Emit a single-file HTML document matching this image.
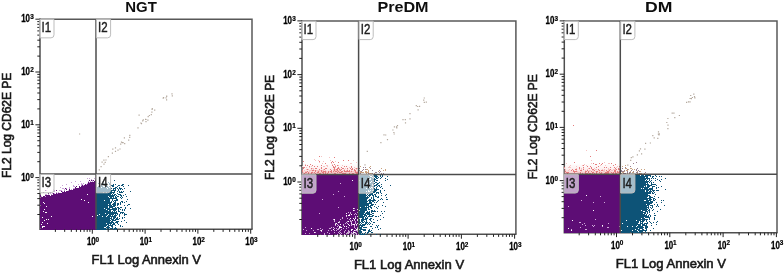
<!DOCTYPE html>
<html><head><meta charset="utf-8"><title>Flow cytometry</title>
<style>html,body{margin:0;padding:0;background:#fff}svg{display:block}</style></head>
<body>
<svg width="784" height="274" viewBox="0 0 784 274">
<defs><linearGradient id="pk" x1="0" y1="0" x2="0" y2="1"><stop offset="0" stop-color="#f0a3a3" stop-opacity="0"/><stop offset="0.55" stop-color="#f0a3a3" stop-opacity="0.18"/><stop offset="1" stop-color="#ee9a9a" stop-opacity="0.6"/></linearGradient><filter id="soft" x="0" y="0" width="784" height="274" filterUnits="userSpaceOnUse"><feGaussianBlur stdDeviation="0.45"/></filter></defs>
<rect width="784" height="274" fill="#fff"/>
<g filter="url(#soft)">
<g>
<path d="M40.0 19.15H252.0V229.3" stroke="#585858" stroke-width="1.5" fill="none"/>
<path d="M40.0 18.55V229.3H252.60" stroke="#505050" stroke-width="1.5" fill="none"/>
<path d="M89 180.5h1M91 180.5h1M93 180.5h1M95 180.5h1M94 181.5h2M88 182.5h1M90 182.5h6M88 183.5h8M85 184.5h1M87 184.5h9M82 185.5h1M84 185.5h12M76 186.5h1M79 186.5h1M81 186.5h15M75 187.5h1M79 187.5h17M65 188.5h1M75 188.5h21M66 189.5h1M69 189.5h1M73 189.5h23M45 190.5h1M56 190.5h1M69 190.5h27M61 191.5h1M64 191.5h1M66 191.5h30M43 192.5h1M50 192.5h1M62 192.5h34M48 193.5h1M53 193.5h1M56 193.5h1M58 193.5h38M53 194.5h34M88 194.5h8M40 195.5h1M45 195.5h5M51 195.5h45M40 196.5h1M43 196.5h2M46 196.5h50M41 197.5h55M40 198.5h56M40 199.5h41M82 199.5h14M40 200.5h44M85 200.5h11M40 201.5h56M40 202.5h3M44 202.5h44M89 202.5h7M40 203.5h4M45 203.5h51M40 204.5h56M41 205.5h55M40 206.5h6M47 206.5h49M40 207.5h56M40 208.5h56M40 209.5h4M45 209.5h51M40 210.5h56M40 211.5h3M44 211.5h52M40 212.5h5M47 212.5h49M40 213.5h56M40 214.5h56M40 215.5h56M40 216.5h11M52 216.5h40M93 216.5h3M40 217.5h2M43 217.5h53M40 218.5h56M40 219.5h6M47 219.5h1M49 219.5h47M40 220.5h4M45 220.5h51M40 221.5h56M40 222.5h2M43 222.5h53M40 223.5h7M48 223.5h48M40 224.5h1M42 224.5h54M40 225.5h56M40 226.5h2M45 226.5h51M40 227.5h2M43 227.5h53M41 228.5h55M40 229.5h56" stroke="#5d1174" stroke-width="1" fill="none"/>
<path d="M87 178.5h1M89 178.5h1M94 178.5h1M91 179.5h1M95 179.5h1M92 180.5h1M75 181.5h1M80 181.5h1M88 181.5h1M90 181.5h1M92 181.5h1M71 182.5h1M89 182.5h1M81 183.5h1M83 183.5h1M87 183.5h1M66 184.5h1M78 184.5h1M81 184.5h2M86 184.5h1M62 185.5h1M73 185.5h1M81 185.5h1M83 185.5h1M73 186.5h2M60 187.5h1M69 187.5h1M47 188.5h1M62 188.5h2M66 188.5h1M69 188.5h1M73 188.5h2M53 189.5h1M64 189.5h1M71 189.5h1M46 190.5h1M54 190.5h1M59 190.5h3M64 190.5h1M68 190.5h1M54 191.5h1M62 191.5h1M56 192.5h1M58 192.5h1M50 193.5h1M52 193.5h1M54 193.5h1M57 193.5h1M45 194.5h2M48 194.5h1M51 194.5h1M41 196.5h1M45 196.5h1" stroke="#c9a3d6" stroke-width="1" fill="none"/>
<path d="M114 180.5h1M103 181.5h1M96 182.5h1M108 182.5h1M110 182.5h1M98 183.5h1M102 183.5h2M106 183.5h1M109 183.5h1M101 184.5h1M103 184.5h2M109 184.5h2M113 184.5h1M115 184.5h1M122 184.5h2M101 185.5h1M104 185.5h3M111 185.5h3M118 185.5h2M121 185.5h2M128 185.5h1M98 186.5h1M101 186.5h2M106 186.5h2M109 186.5h1M112 186.5h2M117 186.5h1M123 186.5h1M96 187.5h5M102 187.5h4M107 187.5h2M110 187.5h1M115 187.5h2M119 187.5h1M97 188.5h10M108 188.5h4M113 188.5h3M117 188.5h1M119 188.5h3M124 188.5h1M96 189.5h15M113 189.5h1M115 189.5h1M118 189.5h1M120 189.5h1M122 189.5h1M96 190.5h20M118 190.5h1M96 191.5h16M114 191.5h1M117 191.5h1M119 191.5h1M121 191.5h1M123 191.5h1M130 191.5h1M96 192.5h7M104 192.5h2M107 192.5h8M119 192.5h4M96 193.5h16M113 193.5h1M117 193.5h1M96 194.5h15M112 194.5h1M114 194.5h2M118 194.5h3M125 194.5h1M96 195.5h19M116 195.5h1M120 195.5h2M123 195.5h1M96 196.5h12M109 196.5h5M115 196.5h1M117 196.5h2M121 196.5h1M126 196.5h1M96 197.5h13M110 197.5h2M113 197.5h1M115 197.5h2M120 197.5h1M122 197.5h1M96 198.5h21M121 198.5h1M96 199.5h14M112 199.5h1M116 199.5h2M127 199.5h1M96 200.5h8M105 200.5h5M112 200.5h1M114 200.5h4M96 201.5h14M111 201.5h1M113 201.5h1M115 201.5h1M121 201.5h2M126 201.5h1M96 202.5h16M114 202.5h2M120 202.5h1M122 202.5h1M124 202.5h1M96 203.5h15M113 203.5h3M117 203.5h2M120 203.5h1M96 204.5h12M109 204.5h2M112 204.5h4M117 204.5h2M120 204.5h1M128 204.5h2M96 205.5h16M113 205.5h3M117 205.5h1M124 205.5h1M127 205.5h1M96 206.5h12M109 206.5h6M96 207.5h12M109 207.5h4M115 207.5h1M117 207.5h2M120 207.5h2M125 207.5h1M96 208.5h8M105 208.5h5M112 208.5h5M118 208.5h2M125 208.5h1M130 208.5h1M96 209.5h10M107 209.5h10M118 209.5h1M120 209.5h1M122 209.5h1M124 209.5h1M96 210.5h12M109 210.5h2M113 210.5h3M118 210.5h1M122 210.5h1M124 210.5h1M96 211.5h15M112 211.5h1M114 211.5h1M116 211.5h1M118 211.5h2M96 212.5h21M120 212.5h4M96 213.5h9M106 213.5h12M120 213.5h1M122 213.5h1M124 213.5h1M96 214.5h3M100 214.5h8M109 214.5h5M115 214.5h1M117 214.5h1M119 214.5h1M124 214.5h3M96 215.5h1M98 215.5h9M108 215.5h3M112 215.5h1M114 215.5h3M119 215.5h1M124 215.5h1M96 216.5h6M103 216.5h3M107 216.5h9M119 216.5h1M96 217.5h14M111 217.5h1M113 217.5h3M117 217.5h1M122 217.5h1M124 217.5h1M96 218.5h16M113 218.5h2M116 218.5h2M119 218.5h1M122 218.5h1M96 219.5h14M111 219.5h3M115 219.5h4M96 220.5h15M112 220.5h4M124 220.5h1M96 221.5h14M111 221.5h2M116 221.5h3M121 221.5h1M96 222.5h18M115 222.5h3M126 222.5h1M96 223.5h10M107 223.5h5M113 223.5h2M117 223.5h1M96 224.5h13M110 224.5h1M112 224.5h3M118 224.5h1M96 225.5h11M108 225.5h5M115 225.5h1M120 225.5h1M96 226.5h10M107 226.5h2M111 226.5h2M120 226.5h1M122 226.5h1M96 227.5h8M106 227.5h4M112 227.5h1M115 227.5h1M96 228.5h10M107 228.5h2M110 228.5h3M114 228.5h3M96 229.5h11M108 229.5h2M113 229.5h2M116 229.5h1" stroke="#0f5377" stroke-width="1" fill="none"/>
<path d="M171.4 93.9h1.2M171.7 95.9h1.2M163.0 97.6h1.2M166.1 96.2h1.2M162.6 98.1h1.2M103.3 160.2h1.2M114.9 151.3h1.2M165.5 97.9h1.2M120.9 142.2h1.2M154.1 110.1h1.2M111.8 153.2h1.2M103.4 164.2h1.2M117.4 150.1h1.2M101.5 162.2h1.2M119.4 149.0h1.2M100.5 166.6h1.2M145.0 119.4h1.2M104.6 162.3h1.2M112.2 149.2h1.2M151.3 112.2h1.2M140.3 123.0h1.2M166.1 96.3h1.2M150.7 114.7h1.2M122.5 142.7h1.2M121.8 142.6h1.2M120.1 144.1h1.2M145.4 121.6h1.2M166.0 99.8h1.2M151.5 109.4h1.2M123.8 137.8h1.2M128.1 140.2h1.2M142.7 119.8h1.2M98.7 169.8h1.2M105.4 160.0h1.2M114.9 147.8h1.2M145.4 119.5h1.2M138.5 115.2h1.2M148.8 115.5h1.2M124.1 143.7h1.2M151.7 108.6h1.2M137.4 127.8h1.2M140.9 123.6h1.2M142.1 120.8h1.2M129.2 135.4h1.2M147.6 116.7h1.2M129.1 137.3h1.2M107.8 156.6h1.2M147.3 120.1h1.2M79.0 134.0h1.2" stroke="#b4a99e" stroke-width="1.2" fill="none"/>
<path d="M55.4 229.3v2.6M40.0 214.5h-2.7M64.7 229.3v2.6M40.0 205.2h-2.7M71.3 229.3v2.6M40.0 198.6h-2.7M76.4 229.3v2.6M40.0 193.5h-2.7M80.6 229.3v2.6M40.0 189.3h-2.7M84.1 229.3v2.6M40.0 185.8h-2.7M87.2 229.3v2.6M40.0 182.7h-2.7M89.9 229.3v2.6M40.0 180.0h-2.7M92.3 229.3v4.4M40.0 177.6h-4.6M108.2 229.3v2.6M40.0 161.7h-2.7M117.5 229.3v2.6M40.0 152.4h-2.7M124.1 229.3v2.6M40.0 145.8h-2.7M129.2 229.3v2.6M40.0 140.7h-2.7M133.4 229.3v2.6M40.0 136.5h-2.7M136.9 229.3v2.6M40.0 133.0h-2.7M140.0 229.3v2.6M40.0 129.9h-2.7M142.7 229.3v2.6M40.0 127.2h-2.7M145.1 229.3v4.4M40.0 124.8h-4.6M161.0 229.3v2.6M40.0 108.9h-2.7M170.3 229.3v2.6M40.0 99.6h-2.7M176.9 229.3v2.6M40.0 93.0h-2.7M182.0 229.3v2.6M40.0 87.9h-2.7M186.2 229.3v2.6M40.0 83.7h-2.7M189.7 229.3v2.6M40.0 80.2h-2.7M192.8 229.3v2.6M40.0 77.1h-2.7M195.5 229.3v2.6M40.0 74.4h-2.7M197.9 229.3v4.4M40.0 72.0h-4.6M213.8 229.3v2.6M40.0 56.1h-2.7M223.1 229.3v2.6M40.0 46.8h-2.7M229.7 229.3v2.6M40.0 40.2h-2.7M234.8 229.3v2.6M40.0 35.1h-2.7M239.0 229.3v2.6M40.0 30.9h-2.7M242.5 229.3v2.6M40.0 27.4h-2.7M245.6 229.3v2.6M40.0 24.3h-2.7M248.3 229.3v2.6M40.0 21.6h-2.7M250.7 229.3v4.4M40.0 19.2h-4.6" stroke="#222" stroke-width="1" fill="none"/>
<path d="M96.0 19.15V229.3M40.0 174.1H252.0" stroke="#4c4c4c" stroke-width="1.5" fill="none"/>
<path d="M39.8 19.45H54.0V34.849999999999994Q54.0 37.849999999999994 51.0 37.849999999999994H39.8Z" fill="#fff" fill-opacity="0.62" stroke="#bdbdbd" stroke-width="1"/><text x="41.5" y="32.4" font-family="'Liberation Sans', Arial, sans-serif" font-size="15" fill="#1c1c1c" stroke="#1c1c1c" stroke-width="0.45" textLength="9.6" lengthAdjust="spacingAndGlyphs">I1</text>
<path d="M96.4 19.45H110.60000000000001V34.849999999999994Q110.60000000000001 37.849999999999994 107.60000000000001 37.849999999999994H96.4Z" fill="#fff" fill-opacity="0.62" stroke="#bdbdbd" stroke-width="1"/><text x="98.1" y="32.4" font-family="'Liberation Sans', Arial, sans-serif" font-size="15" fill="#1c1c1c" stroke="#1c1c1c" stroke-width="0.45" textLength="9.6" lengthAdjust="spacingAndGlyphs">I2</text>
<path d="M39.8 174.4H54.0V189.8Q54.0 192.8 51.0 192.8H39.8Z" fill="#fff" fill-opacity="0.62" stroke="#bdbdbd" stroke-width="1"/><text x="41.5" y="187.3" font-family="'Liberation Sans', Arial, sans-serif" font-size="15" fill="#1c1c1c" stroke="#1c1c1c" stroke-width="0.45" textLength="9.6" lengthAdjust="spacingAndGlyphs">I3</text>
<path d="M96.4 174.4H110.60000000000001V189.8Q110.60000000000001 192.8 107.60000000000001 192.8H96.4Z" fill="#fff" fill-opacity="0.62" stroke="#bdbdbd" stroke-width="1"/><text x="98.1" y="187.3" font-family="'Liberation Sans', Arial, sans-serif" font-size="15" fill="#1c1c1c" stroke="#1c1c1c" stroke-width="0.45" textLength="9.6" lengthAdjust="spacingAndGlyphs">I4</text>
<text x="86.9" y="245.1" font-family="'Liberation Sans', Arial, sans-serif" font-weight="bold" font-size="10" fill="#000" stroke="#000" stroke-width="0.3" textLength="8.8" lengthAdjust="spacingAndGlyphs">10</text><text x="95.6" y="241.7" font-family="'Liberation Sans', Arial, sans-serif" font-weight="bold" font-size="6.4" fill="#000" stroke="#000" stroke-width="0.2">0</text>
<text x="21.2" y="180.6" font-family="'Liberation Sans', Arial, sans-serif" font-weight="bold" font-size="10" fill="#000" stroke="#000" stroke-width="0.3" textLength="8.8" lengthAdjust="spacingAndGlyphs">10</text><text x="30.2" y="177.7" font-family="'Liberation Sans', Arial, sans-serif" font-weight="bold" font-size="6.4" fill="#000" stroke="#000" stroke-width="0.2">0</text>
<text x="139.7" y="245.1" font-family="'Liberation Sans', Arial, sans-serif" font-weight="bold" font-size="10" fill="#000" stroke="#000" stroke-width="0.3" textLength="8.8" lengthAdjust="spacingAndGlyphs">10</text><text x="148.4" y="241.7" font-family="'Liberation Sans', Arial, sans-serif" font-weight="bold" font-size="6.4" fill="#000" stroke="#000" stroke-width="0.2">1</text>
<text x="21.2" y="127.8" font-family="'Liberation Sans', Arial, sans-serif" font-weight="bold" font-size="10" fill="#000" stroke="#000" stroke-width="0.3" textLength="8.8" lengthAdjust="spacingAndGlyphs">10</text><text x="30.2" y="124.9" font-family="'Liberation Sans', Arial, sans-serif" font-weight="bold" font-size="6.4" fill="#000" stroke="#000" stroke-width="0.2">1</text>
<text x="192.5" y="245.1" font-family="'Liberation Sans', Arial, sans-serif" font-weight="bold" font-size="10" fill="#000" stroke="#000" stroke-width="0.3" textLength="8.8" lengthAdjust="spacingAndGlyphs">10</text><text x="201.2" y="241.7" font-family="'Liberation Sans', Arial, sans-serif" font-weight="bold" font-size="6.4" fill="#000" stroke="#000" stroke-width="0.2">2</text>
<text x="21.2" y="75.0" font-family="'Liberation Sans', Arial, sans-serif" font-weight="bold" font-size="10" fill="#000" stroke="#000" stroke-width="0.3" textLength="8.8" lengthAdjust="spacingAndGlyphs">10</text><text x="30.2" y="72.1" font-family="'Liberation Sans', Arial, sans-serif" font-weight="bold" font-size="6.4" fill="#000" stroke="#000" stroke-width="0.2">2</text>
<text x="245.3" y="245.1" font-family="'Liberation Sans', Arial, sans-serif" font-weight="bold" font-size="10" fill="#000" stroke="#000" stroke-width="0.3" textLength="8.8" lengthAdjust="spacingAndGlyphs">10</text><text x="254.0" y="241.7" font-family="'Liberation Sans', Arial, sans-serif" font-weight="bold" font-size="6.4" fill="#000" stroke="#000" stroke-width="0.2">3</text>
<text x="21.2" y="22.2" font-family="'Liberation Sans', Arial, sans-serif" font-weight="bold" font-size="10" fill="#000" stroke="#000" stroke-width="0.3" textLength="8.8" lengthAdjust="spacingAndGlyphs">10</text><text x="30.2" y="19.3" font-family="'Liberation Sans', Arial, sans-serif" font-weight="bold" font-size="6.4" fill="#000" stroke="#000" stroke-width="0.2">3</text>
<text x="125.2" y="11.6" font-family="'Liberation Sans', Arial, sans-serif" font-weight="bold" font-size="15" fill="#111" textLength="31.6" lengthAdjust="spacingAndGlyphs">NGT</text>
<text x="91.6" y="264.0" font-family="'Liberation Sans', Arial, sans-serif" font-size="13" fill="#1a1a1a" stroke="#1a1a1a" stroke-width="0.6" textLength="109.4" lengthAdjust="spacingAndGlyphs">FL1 Log Annexin V</text>
<text transform="translate(11.3 178.0) rotate(-90)" font-family="'Liberation Sans', Arial, sans-serif" font-size="13" fill="#1a1a1a" stroke="#1a1a1a" stroke-width="0.6" textLength="105.3" lengthAdjust="spacingAndGlyphs">FL2 Log CD62E PE</text>
</g>
<g>
<path d="M302.0 20.9H515.9V234.3" stroke="#585858" stroke-width="1.5" fill="none"/>
<path d="M302.0 20.30V234.3H516.50" stroke="#505050" stroke-width="1.5" fill="none"/>
<rect x="302" y="163.5" width="56.6" height="11" fill="url(#pk)"/>
<path d="M302 175.5h57M302 176.5h57M302 177.5h57M302 178.5h57M302 179.5h57M302 180.5h50M353 180.5h6M302 181.5h57M302 182.5h57M302 183.5h38M341 183.5h18M302 184.5h57M302 185.5h57M302 186.5h57M302 187.5h57M302 188.5h57M302 189.5h57M302 190.5h57M302 191.5h36M339 191.5h20M302 192.5h57M302 193.5h57M302 194.5h31M334 194.5h25M302 195.5h57M302 196.5h42M345 196.5h14M302 197.5h57M302 198.5h57M302 199.5h20M323 199.5h36M302 200.5h57M302 201.5h57M302 202.5h57M302 203.5h57M302 204.5h57M302 205.5h57M302 206.5h57M302 207.5h36M339 207.5h20M302 208.5h51M355 208.5h4M302 209.5h55M358 209.5h1M302 210.5h51M355 210.5h4M302 211.5h57M302 212.5h46M349 212.5h1M351 212.5h6M358 212.5h1M302 213.5h17M320 213.5h26M347 213.5h3M351 213.5h4M356 213.5h3M302 214.5h47M350 214.5h1M352 214.5h2M355 214.5h1M357 214.5h2M302 215.5h44M347 215.5h1M350 215.5h9M302 216.5h44M347 216.5h8M356 216.5h1M302 217.5h40M343 217.5h12M356 217.5h3M302 218.5h40M343 218.5h4M348 218.5h2M351 218.5h2M354 218.5h1M356 218.5h3M302 219.5h31M335 219.5h5M341 219.5h8M350 219.5h4M355 219.5h2M358 219.5h1M302 220.5h32M335 220.5h15M351 220.5h1M353 220.5h1M355 220.5h2M358 220.5h1M302 221.5h32M335 221.5h4M340 221.5h7M349 221.5h1M352 221.5h3M356 221.5h2M302 222.5h36M340 222.5h6M347 222.5h4M352 222.5h3M356 222.5h3M302 223.5h33M337 223.5h8M346 223.5h1M348 223.5h3M352 223.5h3M356 223.5h1M358 223.5h1M302 224.5h33M336 224.5h1M338 224.5h2M341 224.5h2M344 224.5h4M349 224.5h2M355 224.5h1M357 224.5h2M302 225.5h33M336 225.5h2M339 225.5h4M344 225.5h5M350 225.5h1M352 225.5h2M355 225.5h1M357 225.5h1M302 226.5h35M338 226.5h1M341 226.5h3M345 226.5h1M347 226.5h7M355 226.5h4M302 227.5h3M306 227.5h25M332 227.5h1M334 227.5h5M342 227.5h6M349 227.5h5M355 227.5h2M358 227.5h1M302 228.5h9M312 228.5h8M321 228.5h8M331 228.5h3M335 228.5h1M337 228.5h1M340 228.5h3M344 228.5h2M347 228.5h8M356 228.5h1M358 228.5h1M302 229.5h1M304 229.5h13M319 229.5h3M323 229.5h10M334 229.5h3M339 229.5h2M342 229.5h9M353 229.5h3M302 230.5h4M307 230.5h6M314 230.5h6M322 230.5h6M329 230.5h2M332 230.5h2M335 230.5h1M337 230.5h3M341 230.5h4M346 230.5h2M349 230.5h2M352 230.5h2M358 230.5h1M302 231.5h19M322 231.5h17M340 231.5h4M345 231.5h3M350 231.5h3M354 231.5h3M302 232.5h12M316 232.5h11M328 232.5h6M335 232.5h3M339 232.5h1M341 232.5h3M345 232.5h2M350 232.5h1M352 232.5h1M356 232.5h3M302 233.5h3M306 233.5h3M310 233.5h14M325 233.5h4M330 233.5h9M340 233.5h1M342 233.5h4M349 233.5h2M354 233.5h1M357 233.5h1M302 234.5h18M321 234.5h3M325 234.5h10M336 234.5h1M338 234.5h1M341 234.5h3M345 234.5h1M347 234.5h3M355 234.5h1M357 234.5h1" stroke="#5d1174" stroke-width="1" fill="none"/>
<path d="M340 183.5h1M338 191.5h1M333 194.5h1M344 196.5h1M322 199.5h1M338 207.5h1M354 208.5h1M354 210.5h1M348 212.5h1M350 212.5h1M357 212.5h1M319 213.5h1M350 213.5h1M355 213.5h1M349 214.5h1M354 214.5h1M356 214.5h1M346 216.5h1M355 216.5h1M358 216.5h1M342 217.5h1M355 217.5h1M342 218.5h1M347 218.5h1M333 219.5h1M340 219.5h1M349 219.5h1M334 220.5h1M350 220.5h1M354 220.5h1M334 221.5h1M339 221.5h1M347 221.5h1M350 221.5h2M355 221.5h1M358 221.5h1M339 222.5h1M346 222.5h1M351 222.5h1M355 222.5h1M335 223.5h1M345 223.5h1M347 223.5h1M355 223.5h1M337 224.5h1M343 224.5h1M351 224.5h2M335 225.5h1M338 225.5h1M343 225.5h1M351 225.5h1M354 225.5h1M356 225.5h1M358 225.5h1M337 226.5h1M340 226.5h1M354 226.5h1M305 227.5h1M331 227.5h1M333 227.5h1M348 227.5h1M354 227.5h1M357 227.5h1M320 228.5h1M329 228.5h2M334 228.5h1M336 228.5h1M338 228.5h2M343 228.5h1M346 228.5h1M355 228.5h1M303 229.5h1M317 229.5h2M322 229.5h1M337 229.5h2M341 229.5h1M358 229.5h1M306 230.5h1M313 230.5h1M320 230.5h1M328 230.5h1M331 230.5h1M334 230.5h1M336 230.5h1M340 230.5h1M345 230.5h1M348 230.5h1M355 230.5h3M321 231.5h1M339 231.5h1M344 231.5h1M348 231.5h2M353 231.5h1M357 231.5h2M315 232.5h1M327 232.5h1M334 232.5h1M338 232.5h1M340 232.5h1M344 232.5h1M347 232.5h3M351 232.5h1M355 232.5h1M305 233.5h1M324 233.5h1M329 233.5h1M339 233.5h1M341 233.5h1M346 233.5h1M348 233.5h1M352 233.5h2M356 233.5h1M358 233.5h1M324 234.5h1M337 234.5h1M340 234.5h1M344 234.5h1M346 234.5h1M350 234.5h5M356 234.5h1M358 234.5h1" stroke="#cfaad9" stroke-width="1" fill="none"/>
<path d="M359 175.5h10M370 175.5h2M373 175.5h4M380 175.5h1M382 175.5h1M359 176.5h11M372 176.5h1M374 176.5h4M380 176.5h1M382 176.5h1M387 176.5h1M359 177.5h9M369 177.5h3M375 177.5h2M378 177.5h1M381 177.5h1M359 178.5h9M369 178.5h1M371 178.5h2M374 178.5h1M376 178.5h2M380 178.5h1M385 178.5h1M359 179.5h10M371 179.5h5M387 179.5h1M360 180.5h13M374 180.5h1M376 180.5h2M385 180.5h1M359 181.5h12M372 181.5h3M359 182.5h11M371 182.5h2M375 182.5h2M379 182.5h1M359 183.5h8M368 183.5h7M377 183.5h2M359 184.5h9M369 184.5h3M373 184.5h1M376 184.5h2M381 184.5h1M359 185.5h10M370 185.5h2M374 185.5h3M378 185.5h2M390 185.5h1M359 186.5h16M377 186.5h1M379 186.5h1M381 186.5h1M359 187.5h10M370 187.5h1M373 187.5h1M376 187.5h1M380 187.5h1M359 188.5h7M367 188.5h3M371 188.5h1M373 188.5h2M376 188.5h1M382 188.5h1M359 189.5h14M374 189.5h5M359 190.5h9M369 190.5h1M371 190.5h1M374 190.5h3M380 190.5h1M384 190.5h1M359 191.5h7M367 191.5h1M370 191.5h6M380 191.5h1M359 192.5h12M373 192.5h2M376 192.5h3M380 192.5h1M359 193.5h7M368 193.5h1M370 193.5h3M376 193.5h1M378 193.5h1M381 193.5h1M359 194.5h7M367 194.5h1M369 194.5h4M374 194.5h2M386 194.5h1M359 195.5h8M368 195.5h3M372 195.5h2M375 195.5h1M381 195.5h1M385 195.5h1M359 196.5h7M367 196.5h1M369 196.5h1M373 196.5h1M375 196.5h2M378 196.5h1M359 197.5h10M371 197.5h1M373 197.5h1M377 197.5h2M386 197.5h1M359 198.5h9M371 198.5h1M373 198.5h1M381 198.5h1M359 199.5h8M369 199.5h2M373 199.5h2M380 199.5h1M382 199.5h1M386 199.5h2M359 200.5h8M368 200.5h8M378 200.5h1M359 201.5h9M369 201.5h2M372 201.5h2M377 201.5h1M359 202.5h8M369 202.5h3M374 202.5h1M376 202.5h1M383 202.5h1M359 203.5h13M359 204.5h10M371 204.5h3M375 204.5h1M359 205.5h10M370 205.5h3M382 205.5h1M359 206.5h6M366 206.5h1M368 206.5h3M374 206.5h1M378 206.5h1M385 206.5h1M359 207.5h1M361 207.5h8M370 207.5h2M376 207.5h1M359 208.5h8M368 208.5h1M371 208.5h1M377 208.5h1M359 209.5h8M368 209.5h2M360 210.5h7M371 210.5h2M374 210.5h1M359 211.5h6M367 211.5h1M369 211.5h1M371 211.5h5M377 211.5h1M381 211.5h1M384 211.5h1M359 212.5h6M366 212.5h4M371 212.5h1M359 213.5h5M365 213.5h5M372 213.5h2M382 213.5h1M359 214.5h7M367 214.5h5M359 215.5h4M364 215.5h3M369 215.5h1M372 215.5h2M380 215.5h1M359 216.5h6M366 216.5h1M368 216.5h5M375 216.5h2M378 216.5h1M359 217.5h5M365 217.5h1M367 217.5h1M383 217.5h1M362 218.5h2M365 218.5h3M370 218.5h2M359 219.5h1M361 219.5h6M369 219.5h2M373 219.5h1M380 219.5h1M359 220.5h1M361 220.5h3M366 220.5h1M370 220.5h1M377 220.5h1M359 221.5h1M361 221.5h2M364 221.5h1M366 221.5h1M371 221.5h1M359 222.5h2M362 222.5h2M365 222.5h3M369 222.5h1M373 222.5h2M359 223.5h1M361 223.5h1M365 223.5h2M368 223.5h1M370 223.5h1M360 224.5h1M362 224.5h4M367 224.5h1M369 224.5h1M372 224.5h1M359 225.5h6M376 225.5h1M378 225.5h1M359 226.5h1M361 226.5h2M370 226.5h2M377 226.5h1M359 227.5h3M363 227.5h4M375 227.5h1M377 227.5h1M359 228.5h3M372 228.5h1M380 228.5h1M360 229.5h6M369 229.5h1M378 229.5h1M359 230.5h2M363 230.5h3M368 230.5h2M371 230.5h1M359 231.5h3M368 231.5h3M359 232.5h3M365 232.5h1M367 232.5h2M371 232.5h2M359 233.5h2M362 233.5h1M364 233.5h1M367 233.5h1M360 234.5h5M366 234.5h1M370 234.5h1M376 234.5h1M380 234.5h1" stroke="#0f5377" stroke-width="1" fill="none"/>
<path d="M319 156.5h1M334 157.5h1M343 160.5h1M348 160.5h1M303 161.5h1M319 161.5h1M332 161.5h1M331 162.5h1M333 162.5h1M338 162.5h1M325 163.5h1M310 164.5h1M334 164.5h1M305 165.5h1M307 165.5h1M312 165.5h1M321 165.5h1M332 165.5h1M337 165.5h1M309 166.5h1M314 166.5h1M317 166.5h1M333 166.5h1M335 166.5h1M344 166.5h1M346 166.5h1M351 166.5h1M303 167.5h2M321 167.5h1M333 167.5h2M338 167.5h1M341 167.5h1M351 167.5h1M303 168.5h1M311 168.5h1M315 168.5h2M321 168.5h1M325 168.5h2M334 168.5h1M337 168.5h2M342 168.5h2M347 168.5h1M350 168.5h1M352 168.5h1M356 168.5h1M307 169.5h1M319 169.5h1M324 169.5h1M330 169.5h1M334 169.5h1M336 169.5h2M339 169.5h1M341 169.5h1M351 169.5h2M354 169.5h1M302 170.5h1M312 170.5h2M315 170.5h1M321 170.5h1M331 170.5h1M334 170.5h1M337 170.5h1M340 170.5h1M344 170.5h1M347 170.5h1M349 170.5h1M354 170.5h2M302 171.5h1M307 171.5h1M315 171.5h1M318 171.5h1M321 171.5h1M323 171.5h3M328 171.5h1M330 171.5h2M333 171.5h1M335 171.5h2M338 171.5h1M341 171.5h2M344 171.5h6M351 171.5h1M355 171.5h1M305 172.5h2M308 172.5h1M311 172.5h2M314 172.5h1M317 172.5h2M322 172.5h2M325 172.5h1M328 172.5h1M331 172.5h1M337 172.5h1M339 172.5h3M355 172.5h4M304 173.5h1M308 173.5h1M311 173.5h1M315 173.5h1M319 173.5h2M323 173.5h1M325 173.5h1M327 173.5h1M334 173.5h2M342 173.5h4M349 173.5h1M352 173.5h2M356 173.5h3" stroke="#e57b7d" stroke-width="1" fill="none"/>
<path d="M321 156.5h1M329 157.5h1M314 159.5h1M315 160.5h1M318 160.5h1M330 160.5h1M353 160.5h1M323 161.5h1M335 161.5h1M319 162.5h1M356 162.5h1M322 163.5h1M331 163.5h1M350 163.5h2M305 164.5h1M332 164.5h1M326 165.5h2M335 165.5h1M338 165.5h1M342 165.5h1M302 166.5h1M311 166.5h1M323 166.5h2M327 166.5h1M306 167.5h1M309 167.5h1M335 167.5h1M349 167.5h1M354 167.5h1M312 168.5h2M339 168.5h1M345 168.5h1M355 168.5h1M357 168.5h1M306 169.5h1M308 169.5h1M311 169.5h1M313 169.5h1M323 169.5h1M333 169.5h1M335 169.5h1M340 169.5h1M344 169.5h1M347 169.5h1M356 169.5h1M304 170.5h1M309 170.5h3M314 170.5h1M316 170.5h5M322 170.5h2M325 170.5h1M333 170.5h1M335 170.5h2M338 170.5h2M343 170.5h1M346 170.5h1M351 170.5h1M305 171.5h2M309 171.5h1M312 171.5h1M317 171.5h1M319 171.5h1M322 171.5h1M326 171.5h1M329 171.5h1M334 171.5h1M337 171.5h1M339 171.5h1M350 171.5h1M352 171.5h3M356 171.5h3M303 172.5h1M309 172.5h1M313 172.5h1M316 172.5h1M320 172.5h2M324 172.5h1M326 172.5h2M330 172.5h1M332 172.5h4M338 172.5h1M342 172.5h2M345 172.5h2M349 172.5h3M354 172.5h1M302 173.5h2M305 173.5h1M307 173.5h1M310 173.5h1M314 173.5h1M317 173.5h1M321 173.5h2M324 173.5h1M326 173.5h1M328 173.5h1M330 173.5h1M332 173.5h2M336 173.5h2M339 173.5h3M346 173.5h1M350 173.5h2M354 173.5h2" stroke="#f6c4c4" stroke-width="1" fill="none"/>
<path d="M360 166.5h1M370 166.5h1M369 167.5h1M381 168.5h1M366 169.5h2M385 169.5h1M359 170.5h1M368 170.5h1M383 170.5h1M385 170.5h1M360 171.5h1M365 171.5h2M368 171.5h1M378 171.5h1M360 172.5h4M365 172.5h4M366 173.5h1M369 173.5h3M374 173.5h1" stroke="#c9a27f" stroke-width="1" fill="none"/>
<path d="M363 167.5h1M365 167.5h1M359 168.5h1M370 168.5h1M363 169.5h1M365 169.5h1M362 170.5h1M372 170.5h1M379 170.5h1M361 171.5h1M380 171.5h1M375 172.5h2M379 172.5h1M360 173.5h1M368 173.5h1M372 173.5h1M381 173.5h1M383 173.5h1" stroke="#9a7f8f" stroke-width="1" fill="none"/>
<path d="M423.7 98.0h1.2M364.4 164.8h1.2M404.9 122.8h1.2M380.3 142.7h1.2M423.7 102.3h1.2M404.7 119.6h1.2M417.5 109.9h1.2M366.7 151.3h1.2M425.7 102.1h1.2M402.4 119.7h1.2M396.2 127.9h1.2M383.4 134.9h1.2M385.1 135.0h1.2M409.4 113.7h1.2M415.7 105.7h1.2M423.1 100.2h1.2M417.1 106.5h1.2M396.9 125.7h1.2M392.3 130.0h1.2M386.9 139.6h1.2M393.8 126.9h1.2M409.4 118.9h1.2M395.9 126.8h1.2M393.6 134.0h1.2M419.0 106.3h1.2M393.3 132.5h1.2" stroke="#b4a99e" stroke-width="1.2" fill="none"/>
<path d="M317.7 234.3v2.6M302.0 219.5h-2.7M327.1 234.3v2.6M302.0 210.1h-2.7M333.7 234.3v2.6M302.0 203.4h-2.7M338.9 234.3v2.6M302.0 198.2h-2.7M343.1 234.3v2.6M302.0 193.9h-2.7M346.7 234.3v2.6M302.0 190.3h-2.7M349.7 234.3v2.6M302.0 187.2h-2.7M352.5 234.3v2.6M302.0 184.5h-2.7M354.9 234.3v4.4M302.0 182.0h-4.6M370.9 234.3v2.6M302.0 165.8h-2.7M380.3 234.3v2.6M302.0 156.4h-2.7M387.0 234.3v2.6M302.0 149.7h-2.7M392.1 234.3v2.6M302.0 144.5h-2.7M396.3 234.3v2.6M302.0 140.2h-2.7M399.9 234.3v2.6M302.0 136.6h-2.7M403.0 234.3v2.6M302.0 133.5h-2.7M405.7 234.3v2.6M302.0 130.8h-2.7M408.1 234.3v4.4M302.0 128.3h-4.6M424.2 234.3v2.6M302.0 112.1h-2.7M433.6 234.3v2.6M302.0 102.7h-2.7M440.2 234.3v2.6M302.0 96.0h-2.7M445.4 234.3v2.6M302.0 90.8h-2.7M449.6 234.3v2.6M302.0 86.5h-2.7M453.2 234.3v2.6M302.0 82.9h-2.7M456.2 234.3v2.6M302.0 79.8h-2.7M459.0 234.3v2.6M302.0 77.1h-2.7M461.4 234.3v4.4M302.0 74.6h-4.6M477.4 234.3v2.6M302.0 58.4h-2.7M486.8 234.3v2.6M302.0 49.0h-2.7M493.5 234.3v2.6M302.0 42.3h-2.7M498.6 234.3v2.6M302.0 37.1h-2.7M502.8 234.3v2.6M302.0 32.8h-2.7M506.4 234.3v2.6M302.0 29.2h-2.7M509.5 234.3v2.6M302.0 26.1h-2.7M512.2 234.3v2.6M302.0 23.4h-2.7M514.6 234.3v4.4M302.0 20.9h-4.6" stroke="#222" stroke-width="1" fill="none"/>
<path d="M358.6 20.9V234.3M302.0 174.5H515.9" stroke="#4c4c4c" stroke-width="1.5" fill="none"/>
<path d="M301.8 21.2H316.0V36.599999999999994Q316.0 39.599999999999994 313.0 39.599999999999994H301.8Z" fill="#fff" fill-opacity="0.62" stroke="#bdbdbd" stroke-width="1"/><text x="303.5" y="34.1" font-family="'Liberation Sans', Arial, sans-serif" font-size="15" fill="#1c1c1c" stroke="#1c1c1c" stroke-width="0.45" textLength="9.6" lengthAdjust="spacingAndGlyphs">I1</text>
<path d="M359.0 21.2H373.2V36.599999999999994Q373.2 39.599999999999994 370.2 39.599999999999994H359.0Z" fill="#fff" fill-opacity="0.62" stroke="#bdbdbd" stroke-width="1"/><text x="360.7" y="34.1" font-family="'Liberation Sans', Arial, sans-serif" font-size="15" fill="#1c1c1c" stroke="#1c1c1c" stroke-width="0.45" textLength="9.6" lengthAdjust="spacingAndGlyphs">I2</text>
<path d="M301.8 174.8H316.0V190.20000000000002Q316.0 193.20000000000002 313.0 193.20000000000002H301.8Z" fill="#fff" fill-opacity="0.62" stroke="#bdbdbd" stroke-width="1"/><text x="303.5" y="187.7" font-family="'Liberation Sans', Arial, sans-serif" font-size="15" fill="#1c1c1c" stroke="#1c1c1c" stroke-width="0.45" textLength="9.6" lengthAdjust="spacingAndGlyphs">I3</text>
<path d="M359.0 174.8H373.2V190.20000000000002Q373.2 193.20000000000002 370.2 193.20000000000002H359.0Z" fill="#fff" fill-opacity="0.62" stroke="#bdbdbd" stroke-width="1"/><text x="360.7" y="187.7" font-family="'Liberation Sans', Arial, sans-serif" font-size="15" fill="#1c1c1c" stroke="#1c1c1c" stroke-width="0.45" textLength="9.6" lengthAdjust="spacingAndGlyphs">I4</text>
<text x="349.5" y="250.1" font-family="'Liberation Sans', Arial, sans-serif" font-weight="bold" font-size="10" fill="#000" stroke="#000" stroke-width="0.3" textLength="8.8" lengthAdjust="spacingAndGlyphs">10</text><text x="358.2" y="246.7" font-family="'Liberation Sans', Arial, sans-serif" font-weight="bold" font-size="6.4" fill="#000" stroke="#000" stroke-width="0.2">0</text>
<text x="283.2" y="185.0" font-family="'Liberation Sans', Arial, sans-serif" font-weight="bold" font-size="10" fill="#000" stroke="#000" stroke-width="0.3" textLength="8.8" lengthAdjust="spacingAndGlyphs">10</text><text x="292.2" y="182.1" font-family="'Liberation Sans', Arial, sans-serif" font-weight="bold" font-size="6.4" fill="#000" stroke="#000" stroke-width="0.2">0</text>
<text x="402.8" y="250.1" font-family="'Liberation Sans', Arial, sans-serif" font-weight="bold" font-size="10" fill="#000" stroke="#000" stroke-width="0.3" textLength="8.8" lengthAdjust="spacingAndGlyphs">10</text><text x="411.4" y="246.7" font-family="'Liberation Sans', Arial, sans-serif" font-weight="bold" font-size="6.4" fill="#000" stroke="#000" stroke-width="0.2">1</text>
<text x="283.2" y="131.3" font-family="'Liberation Sans', Arial, sans-serif" font-weight="bold" font-size="10" fill="#000" stroke="#000" stroke-width="0.3" textLength="8.8" lengthAdjust="spacingAndGlyphs">10</text><text x="292.2" y="128.4" font-family="'Liberation Sans', Arial, sans-serif" font-weight="bold" font-size="6.4" fill="#000" stroke="#000" stroke-width="0.2">1</text>
<text x="456.0" y="250.1" font-family="'Liberation Sans', Arial, sans-serif" font-weight="bold" font-size="10" fill="#000" stroke="#000" stroke-width="0.3" textLength="8.8" lengthAdjust="spacingAndGlyphs">10</text><text x="464.7" y="246.7" font-family="'Liberation Sans', Arial, sans-serif" font-weight="bold" font-size="6.4" fill="#000" stroke="#000" stroke-width="0.2">2</text>
<text x="283.2" y="77.6" font-family="'Liberation Sans', Arial, sans-serif" font-weight="bold" font-size="10" fill="#000" stroke="#000" stroke-width="0.3" textLength="8.8" lengthAdjust="spacingAndGlyphs">10</text><text x="292.2" y="74.7" font-family="'Liberation Sans', Arial, sans-serif" font-weight="bold" font-size="6.4" fill="#000" stroke="#000" stroke-width="0.2">2</text>
<text x="509.2" y="250.1" font-family="'Liberation Sans', Arial, sans-serif" font-weight="bold" font-size="10" fill="#000" stroke="#000" stroke-width="0.3" textLength="8.8" lengthAdjust="spacingAndGlyphs">10</text><text x="517.9" y="246.7" font-family="'Liberation Sans', Arial, sans-serif" font-weight="bold" font-size="6.4" fill="#000" stroke="#000" stroke-width="0.2">3</text>
<text x="283.2" y="23.9" font-family="'Liberation Sans', Arial, sans-serif" font-weight="bold" font-size="10" fill="#000" stroke="#000" stroke-width="0.3" textLength="8.8" lengthAdjust="spacingAndGlyphs">10</text><text x="292.2" y="21.0" font-family="'Liberation Sans', Arial, sans-serif" font-weight="bold" font-size="6.4" fill="#000" stroke="#000" stroke-width="0.2">3</text>
<text x="377.4" y="11.7" font-family="'Liberation Sans', Arial, sans-serif" font-weight="bold" font-size="15" fill="#111" textLength="51.2" lengthAdjust="spacingAndGlyphs">PreDM</text>
<text x="353.9" y="269.3" font-family="'Liberation Sans', Arial, sans-serif" font-size="13" fill="#1a1a1a" stroke="#1a1a1a" stroke-width="0.6" textLength="110.2" lengthAdjust="spacingAndGlyphs">FL1 Log Annexin V</text>
<text transform="translate(274.0 180.0) rotate(-90)" font-family="'Liberation Sans', Arial, sans-serif" font-size="13" fill="#1a1a1a" stroke="#1a1a1a" stroke-width="0.6" textLength="105.1" lengthAdjust="spacingAndGlyphs">FL2 Log CD62E PE</text>
</g>
<g>
<path d="M564.3 20.9H777.0V232.7" stroke="#585858" stroke-width="1.5" fill="none"/>
<path d="M564.3 20.30V232.7H777.60" stroke="#505050" stroke-width="1.5" fill="none"/>
<rect x="564" y="163.3" width="56.3" height="11" fill="url(#pk)"/>
<path d="M564 175.5h57M564 176.5h57M564 177.5h57M564 178.5h57M564 179.5h57M564 180.5h57M564 181.5h57M564 182.5h57M564 183.5h57M564 184.5h57M564 185.5h57M564 186.5h57M564 187.5h57M564 188.5h57M564 189.5h57M564 190.5h57M564 191.5h57M564 192.5h57M564 193.5h57M564 194.5h57M564 195.5h22M587 195.5h34M564 196.5h36M601 196.5h20M564 197.5h57M564 198.5h57M564 199.5h57M564 200.5h17M582 200.5h39M564 201.5h57M564 202.5h29M594 202.5h10M605 202.5h16M564 203.5h57M564 204.5h57M564 205.5h57M564 206.5h4M569 206.5h52M564 207.5h57M564 208.5h57M564 209.5h57M564 210.5h29M594 210.5h27M564 211.5h57M564 212.5h57M564 213.5h57M564 214.5h57M564 215.5h57M564 216.5h57M564 217.5h57M564 218.5h57M564 219.5h31M596 219.5h25M564 220.5h8M573 220.5h48M564 221.5h57M564 222.5h15M581 222.5h40M564 223.5h20M585 223.5h23M609 223.5h12M564 224.5h18M583 224.5h38M564 225.5h21M586 225.5h6M593 225.5h1M595 225.5h7M603 225.5h18M564 226.5h29M594 226.5h8M603 226.5h16M620 226.5h1M564 227.5h16M581 227.5h26M609 227.5h12M564 228.5h4M569 228.5h52M564 229.5h7M572 229.5h13M587 229.5h34M564 230.5h7M572 230.5h49M564 231.5h57M564 232.5h57" stroke="#5d1174" stroke-width="1" fill="none"/>
<path d="M600 196.5h1M581 200.5h1M593 202.5h1M604 202.5h1M568 206.5h1M595 219.5h1M579 222.5h2M584 223.5h1M608 223.5h1M582 224.5h1M585 225.5h1M592 225.5h1M594 225.5h1M593 226.5h1M602 226.5h1M619 226.5h1M580 227.5h1M607 227.5h2M571 229.5h1M585 229.5h2" stroke="#cfaad9" stroke-width="1" fill="none"/>
<path d="M621 175.5h19M641 175.5h3M645 175.5h6M655 175.5h1M621 176.5h27M650 176.5h1M652 176.5h2M656 176.5h1M659 176.5h1M661 176.5h1M621 177.5h24M646 177.5h2M652 177.5h1M621 178.5h29M651 178.5h1M653 178.5h1M655 178.5h1M665 178.5h1M621 179.5h25M647 179.5h1M649 179.5h1M657 179.5h1M661 179.5h1M621 180.5h24M646 180.5h1M649 180.5h1M651 180.5h1M655 180.5h1M659 180.5h1M621 181.5h28M650 181.5h1M660 181.5h1M621 182.5h27M649 182.5h1M651 182.5h1M653 182.5h1M621 183.5h25M647 183.5h1M651 183.5h1M621 184.5h28M651 184.5h5M621 185.5h25M647 185.5h5M656 185.5h1M621 186.5h23M645 186.5h1M647 186.5h3M652 186.5h3M661 186.5h1M621 187.5h28M652 187.5h1M656 187.5h1M658 187.5h1M621 188.5h20M642 188.5h1M644 188.5h4M649 188.5h4M656 188.5h1M621 189.5h32M665 189.5h1M621 190.5h24M646 190.5h3M650 190.5h1M652 190.5h3M656 190.5h3M621 191.5h24M646 191.5h2M649 191.5h3M653 191.5h1M621 192.5h30M652 192.5h1M654 192.5h1M621 193.5h30M652 193.5h2M621 194.5h27M655 194.5h1M621 195.5h29M621 196.5h27M649 196.5h2M654 196.5h1M621 197.5h26M649 197.5h4M658 197.5h1M621 198.5h30M653 198.5h2M621 199.5h27M649 199.5h3M653 199.5h1M655 199.5h1M621 200.5h23M646 200.5h5M653 200.5h2M661 200.5h1M663 200.5h1M621 201.5h28M650 201.5h3M621 202.5h32M656 202.5h1M661 202.5h1M621 203.5h31M621 204.5h25M647 204.5h3M654 204.5h1M657 204.5h1M621 205.5h28M650 205.5h3M657 205.5h1M664 205.5h1M621 206.5h26M648 206.5h1M652 206.5h1M656 206.5h1M658 206.5h1M621 207.5h28M650 207.5h1M652 207.5h1M621 208.5h26M648 208.5h1M651 208.5h1M621 209.5h27M649 209.5h1M653 209.5h1M660 209.5h1M621 210.5h20M642 210.5h5M648 210.5h2M652 210.5h1M621 211.5h22M645 211.5h3M649 211.5h1M657 211.5h1M621 212.5h25M647 212.5h1M649 212.5h1M621 213.5h22M644 213.5h2M647 213.5h1M654 213.5h1M621 214.5h24M646 214.5h1M649 214.5h1M621 215.5h26M648 215.5h1M650 215.5h1M654 215.5h2M621 216.5h28M650 216.5h1M621 217.5h23M645 217.5h5M654 217.5h1M621 218.5h20M642 218.5h3M649 218.5h1M654 218.5h1M621 219.5h27M649 219.5h1M654 219.5h1M621 220.5h5M627 220.5h9M637 220.5h4M642 220.5h3M646 220.5h1M621 221.5h18M640 221.5h4M646 221.5h1M649 221.5h1M657 221.5h1M621 222.5h18M640 222.5h1M642 222.5h1M647 222.5h1M650 222.5h1M653 222.5h1M656 222.5h1M621 223.5h1M623 223.5h15M640 223.5h3M644 223.5h4M651 223.5h1M621 224.5h20M642 224.5h3M646 224.5h1M656 224.5h1M621 225.5h16M638 225.5h3M642 225.5h5M651 225.5h1M621 226.5h6M628 226.5h4M633 226.5h3M637 226.5h6M645 226.5h3M621 227.5h23M645 227.5h3M621 228.5h17M639 228.5h4M645 228.5h2M653 228.5h1M621 229.5h14M636 229.5h4M642 229.5h2M646 229.5h1M622 230.5h10M633 230.5h4M638 230.5h9M650 230.5h1M621 231.5h17M639 231.5h4M645 231.5h1M621 232.5h9M631 232.5h11M643 232.5h1M646 232.5h1" stroke="#0f5377" stroke-width="1" fill="none"/>
<path d="M573 125.5h1M620 138.5h1M596 150.5h1M590 156.5h1M574 162.5h1M593 163.5h1M599 163.5h1M602 163.5h1M611 163.5h1M595 164.5h2M601 164.5h1M615 164.5h1M583 165.5h1M613 165.5h1M587 166.5h1M590 166.5h1M598 166.5h1M619 166.5h1M564 167.5h1M579 167.5h1M583 167.5h1M591 167.5h1M596 167.5h1M604 167.5h1M606 167.5h1M610 167.5h1M614 167.5h1M579 168.5h1M589 168.5h1M591 168.5h1M615 168.5h1M618 168.5h1M572 169.5h1M575 169.5h2M583 169.5h1M592 169.5h2M598 169.5h1M610 169.5h1M616 169.5h1M618 169.5h2M571 170.5h1M573 170.5h1M580 170.5h2M587 170.5h1M594 170.5h1M599 170.5h1M601 170.5h2M606 170.5h1M609 170.5h1M614 170.5h2M565 171.5h1M573 171.5h4M585 171.5h2M588 171.5h1M591 171.5h1M596 171.5h2M607 171.5h2M614 171.5h2M617 171.5h1M619 171.5h1M566 172.5h3M574 172.5h1M580 172.5h1M585 172.5h1M588 172.5h1M592 172.5h2M596 172.5h1M599 172.5h1M601 172.5h1M605 172.5h4M611 172.5h1M613 172.5h1M615 172.5h1M617 172.5h3M567 173.5h1M580 173.5h1M582 173.5h1M585 173.5h3M589 173.5h2M592 173.5h1M594 173.5h1M596 173.5h1M600 173.5h2M604 173.5h5M612 173.5h2M615 173.5h2M619 173.5h2" stroke="#e57b7d" stroke-width="1" fill="none"/>
<path d="M586 150.5h1M591 160.5h1M604 162.5h1M566 163.5h1M591 163.5h1M608 163.5h2M584 164.5h1M620 164.5h1M570 165.5h1M582 165.5h1M586 165.5h1M600 165.5h1M605 165.5h1M569 166.5h1M576 166.5h1M617 166.5h1M620 166.5h1M568 167.5h3M616 167.5h1M564 168.5h1M576 168.5h1M581 168.5h1M583 168.5h1M588 168.5h1M594 168.5h1M608 168.5h1M619 168.5h2M565 169.5h1M569 169.5h1M579 169.5h1M581 169.5h1M587 169.5h1M595 169.5h2M602 169.5h1M604 169.5h1M608 169.5h2M613 169.5h3M620 169.5h1M565 170.5h1M568 170.5h1M576 170.5h1M585 170.5h1M589 170.5h2M592 170.5h2M598 170.5h1M603 170.5h2M608 170.5h1M611 170.5h2M619 170.5h1M577 171.5h1M581 171.5h1M589 171.5h1M593 171.5h1M595 171.5h1M599 171.5h2M603 171.5h2M606 171.5h1M609 171.5h2M618 171.5h1M620 171.5h1M565 172.5h1M577 172.5h3M582 172.5h1M584 172.5h1M597 172.5h1M600 172.5h1M602 172.5h1M609 172.5h2M612 172.5h1M614 172.5h1M616 172.5h1M620 172.5h1M565 173.5h1M570 173.5h1M573 173.5h3M583 173.5h1M588 173.5h1M591 173.5h1M593 173.5h1M599 173.5h1M602 173.5h1M609 173.5h3M614 173.5h1M617 173.5h1" stroke="#f6c4c4" stroke-width="1" fill="none"/>
<path d="M625 165.5h1M622 166.5h1M625 168.5h2M630 168.5h2M628 169.5h1M632 169.5h1M634 169.5h1M641 169.5h1M644 169.5h1M626 170.5h2M624 171.5h1M630 171.5h1M637 171.5h1M640 171.5h1M622 172.5h2M632 172.5h2M621 173.5h1M627 173.5h1M629 173.5h1M637 173.5h1M640 173.5h2M644 173.5h1" stroke="#c9a27f" stroke-width="1" fill="none"/>
<path d="M636 162.5h1M633 163.5h1M630 166.5h1M625 167.5h1M622 168.5h1M637 168.5h1M627 169.5h1M636 169.5h1M621 170.5h1M624 170.5h1M631 170.5h1M636 170.5h1M638 170.5h1M621 171.5h3M627 171.5h1M633 171.5h1M639 171.5h1M627 172.5h1M629 172.5h2M636 172.5h2M645 172.5h1M623 173.5h3M639 173.5h1" stroke="#9a7f8f" stroke-width="1" fill="none"/>
<path d="M689.4 101.9h1.2M693.2 94.1h1.2M689.5 98.5h1.2M687.9 101.8h1.2M694.3 97.9h1.2M691.8 97.5h1.2M630.1 160.4h1.2M673.3 113.2h1.2M649.8 143.0h1.2M627.2 165.1h1.2M667.4 125.1h1.2M674.2 117.7h1.2M644.3 149.2h1.2M690.8 98.7h1.2M641.0 153.9h1.2M690.1 95.5h1.2M632.3 156.8h1.2M667.3 118.5h1.2M667.3 128.7h1.2M657.2 138.3h1.2M658.4 135.0h1.2M693.9 96.6h1.2M645.0 143.4h1.2M657.8 134.1h1.2M658.7 133.8h1.2M638.8 150.8h1.2M653.6 137.8h1.2M639.9 148.9h1.2M666.2 122.5h1.2M686.0 102.3h1.2M678.8 115.5h1.2M671.6 113.1h1.2M630.7 157.7h1.2M636.8 154.8h1.2M657.9 131.8h1.2M652.2 135.6h1.2" stroke="#b4a99e" stroke-width="1.2" fill="none"/>
<path d="M579.2 232.7v2.6M564.3 217.7h-2.7M588.6 232.7v2.6M564.3 208.4h-2.7M595.3 232.7v2.6M564.3 201.7h-2.7M600.5 232.7v2.6M564.3 196.6h-2.7M604.7 232.7v2.6M564.3 192.4h-2.7M608.2 232.7v2.6M564.3 188.8h-2.7M611.3 232.7v2.6M564.3 185.7h-2.7M614.1 232.7v2.6M564.3 183.0h-2.7M616.5 232.7v4.4M564.3 180.6h-4.6M632.5 232.7v2.6M564.3 164.5h-2.7M641.9 232.7v2.6M564.3 155.2h-2.7M648.6 232.7v2.6M564.3 148.5h-2.7M653.8 232.7v2.6M564.3 143.4h-2.7M658.0 232.7v2.6M564.3 139.2h-2.7M661.5 232.7v2.6M564.3 135.6h-2.7M664.6 232.7v2.6M564.3 132.5h-2.7M667.4 232.7v2.6M564.3 129.8h-2.7M669.8 232.7v4.4M564.3 127.4h-4.6M685.8 232.7v2.6M564.3 111.3h-2.7M695.2 232.7v2.6M564.3 102.0h-2.7M701.9 232.7v2.6M564.3 95.3h-2.7M707.1 232.7v2.6M564.3 90.2h-2.7M711.3 232.7v2.6M564.3 86.0h-2.7M714.8 232.7v2.6M564.3 82.4h-2.7M717.9 232.7v2.6M564.3 79.3h-2.7M720.7 232.7v2.6M564.3 76.6h-2.7M723.1 232.7v4.4M564.3 74.2h-4.6M739.1 232.7v2.6M564.3 58.1h-2.7M748.5 232.7v2.6M564.3 48.8h-2.7M755.2 232.7v2.6M564.3 42.1h-2.7M760.4 232.7v2.6M564.3 37.0h-2.7M764.6 232.7v2.6M564.3 32.8h-2.7M768.1 232.7v2.6M564.3 29.2h-2.7M771.2 232.7v2.6M564.3 26.1h-2.7M774.0 232.7v2.6M564.3 23.4h-2.7M776.4 232.7v4.4M564.3 20.9h-4.6" stroke="#222" stroke-width="1" fill="none"/>
<path d="M620.3 20.9V232.7M564.3 174.35H777.0" stroke="#4c4c4c" stroke-width="1.5" fill="none"/>
<path d="M564.0999999999999 21.2H578.3V36.599999999999994Q578.3 39.599999999999994 575.3 39.599999999999994H564.0999999999999Z" fill="#fff" fill-opacity="0.62" stroke="#bdbdbd" stroke-width="1"/><text x="565.8" y="34.1" font-family="'Liberation Sans', Arial, sans-serif" font-size="15" fill="#1c1c1c" stroke="#1c1c1c" stroke-width="0.45" textLength="9.6" lengthAdjust="spacingAndGlyphs">I1</text>
<path d="M620.6999999999999 21.2H634.9V36.599999999999994Q634.9 39.599999999999994 631.9 39.599999999999994H620.6999999999999Z" fill="#fff" fill-opacity="0.62" stroke="#bdbdbd" stroke-width="1"/><text x="622.4" y="34.1" font-family="'Liberation Sans', Arial, sans-serif" font-size="15" fill="#1c1c1c" stroke="#1c1c1c" stroke-width="0.45" textLength="9.6" lengthAdjust="spacingAndGlyphs">I2</text>
<path d="M564.0999999999999 174.65H578.3V190.05Q578.3 193.05 575.3 193.05H564.0999999999999Z" fill="#fff" fill-opacity="0.62" stroke="#bdbdbd" stroke-width="1"/><text x="565.8" y="187.6" font-family="'Liberation Sans', Arial, sans-serif" font-size="15" fill="#1c1c1c" stroke="#1c1c1c" stroke-width="0.45" textLength="9.6" lengthAdjust="spacingAndGlyphs">I3</text>
<path d="M620.6999999999999 174.65H634.9V190.05Q634.9 193.05 631.9 193.05H620.6999999999999Z" fill="#fff" fill-opacity="0.62" stroke="#bdbdbd" stroke-width="1"/><text x="622.4" y="187.6" font-family="'Liberation Sans', Arial, sans-serif" font-size="15" fill="#1c1c1c" stroke="#1c1c1c" stroke-width="0.45" textLength="9.6" lengthAdjust="spacingAndGlyphs">I4</text>
<text x="611.1" y="248.5" font-family="'Liberation Sans', Arial, sans-serif" font-weight="bold" font-size="10" fill="#000" stroke="#000" stroke-width="0.3" textLength="8.8" lengthAdjust="spacingAndGlyphs">10</text><text x="619.8" y="245.1" font-family="'Liberation Sans', Arial, sans-serif" font-weight="bold" font-size="6.4" fill="#000" stroke="#000" stroke-width="0.2">0</text>
<text x="545.5" y="183.6" font-family="'Liberation Sans', Arial, sans-serif" font-weight="bold" font-size="10" fill="#000" stroke="#000" stroke-width="0.3" textLength="8.8" lengthAdjust="spacingAndGlyphs">10</text><text x="554.5" y="180.7" font-family="'Liberation Sans', Arial, sans-serif" font-weight="bold" font-size="6.4" fill="#000" stroke="#000" stroke-width="0.2">0</text>
<text x="664.4" y="248.5" font-family="'Liberation Sans', Arial, sans-serif" font-weight="bold" font-size="10" fill="#000" stroke="#000" stroke-width="0.3" textLength="8.8" lengthAdjust="spacingAndGlyphs">10</text><text x="673.1" y="245.1" font-family="'Liberation Sans', Arial, sans-serif" font-weight="bold" font-size="6.4" fill="#000" stroke="#000" stroke-width="0.2">1</text>
<text x="545.5" y="130.4" font-family="'Liberation Sans', Arial, sans-serif" font-weight="bold" font-size="10" fill="#000" stroke="#000" stroke-width="0.3" textLength="8.8" lengthAdjust="spacingAndGlyphs">10</text><text x="554.5" y="127.5" font-family="'Liberation Sans', Arial, sans-serif" font-weight="bold" font-size="6.4" fill="#000" stroke="#000" stroke-width="0.2">1</text>
<text x="717.7" y="248.5" font-family="'Liberation Sans', Arial, sans-serif" font-weight="bold" font-size="10" fill="#000" stroke="#000" stroke-width="0.3" textLength="8.8" lengthAdjust="spacingAndGlyphs">10</text><text x="726.4" y="245.1" font-family="'Liberation Sans', Arial, sans-serif" font-weight="bold" font-size="6.4" fill="#000" stroke="#000" stroke-width="0.2">2</text>
<text x="545.5" y="77.2" font-family="'Liberation Sans', Arial, sans-serif" font-weight="bold" font-size="10" fill="#000" stroke="#000" stroke-width="0.3" textLength="8.8" lengthAdjust="spacingAndGlyphs">10</text><text x="554.5" y="74.2" font-family="'Liberation Sans', Arial, sans-serif" font-weight="bold" font-size="6.4" fill="#000" stroke="#000" stroke-width="0.2">2</text>
<text x="771.0" y="248.5" font-family="'Liberation Sans', Arial, sans-serif" font-weight="bold" font-size="10" fill="#000" stroke="#000" stroke-width="0.3" textLength="8.8" lengthAdjust="spacingAndGlyphs">10</text><text x="779.7" y="245.1" font-family="'Liberation Sans', Arial, sans-serif" font-weight="bold" font-size="6.4" fill="#000" stroke="#000" stroke-width="0.2">3</text>
<text x="545.5" y="23.9" font-family="'Liberation Sans', Arial, sans-serif" font-weight="bold" font-size="10" fill="#000" stroke="#000" stroke-width="0.3" textLength="8.8" lengthAdjust="spacingAndGlyphs">10</text><text x="554.5" y="21.0" font-family="'Liberation Sans', Arial, sans-serif" font-weight="bold" font-size="6.4" fill="#000" stroke="#000" stroke-width="0.2">3</text>
<text x="645.1" y="11.7" font-family="'Liberation Sans', Arial, sans-serif" font-weight="bold" font-size="15" fill="#111" textLength="27.4" lengthAdjust="spacingAndGlyphs">DM</text>
<text x="615.7" y="267.9" font-family="'Liberation Sans', Arial, sans-serif" font-size="13" fill="#1a1a1a" stroke="#1a1a1a" stroke-width="0.6" textLength="110.2" lengthAdjust="spacingAndGlyphs">FL1 Log Annexin V</text>
<text transform="translate(536.6 179.2) rotate(-90)" font-family="'Liberation Sans', Arial, sans-serif" font-size="13" fill="#1a1a1a" stroke="#1a1a1a" stroke-width="0.6" textLength="105.0" lengthAdjust="spacingAndGlyphs">FL2 Log CD62E PE</text>
</g>
</g>
</svg>
</body></html>
